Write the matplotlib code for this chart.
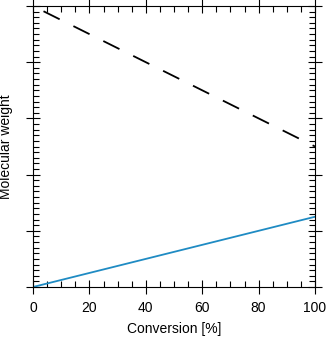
import matplotlib.pyplot as plt
from matplotlib.ticker import MultipleLocator

# conversion [%] and molecular weight (arbitrary units)
conversion = [0, 100]
mw_dashed = [5.0, 2.5]
mw_blue = [0.0, 1.25]

xticks = [0, 20, 40, 60, 80, 100]

plt.rcParams['font.family'] = ['Liberation Sans', 'DejaVu Sans']
plt.rcParams['font.size'] = 10

fig = plt.figure(figsize=(3.26, 3.37), dpi=100)
ax = fig.add_axes([33 / 326, 1 - 287 / 337, 282 / 326, 281 / 337])

# dashed line starts and ends with a gap
ax.plot(conversion, mw_dashed, color='black', linewidth=1.3,
        linestyle=(12.0, (10.0, 8.5)))
ax.plot(conversion, mw_blue, color='#1f8bc3', linewidth=1.3)

ax.set_xlim(0, 100)
ax.set_ylim(0, 5)
ax.set_xticks(xticks)
ax.xaxis.set_minor_locator(MultipleLocator(5))
ax.yaxis.set_major_locator(MultipleLocator(1))
ax.yaxis.set_minor_locator(MultipleLocator(0.1))
ax.set_yticklabels([])

ax.tick_params(which='major', direction='inout', length=10, width=0.8,
               top=True, right=True, pad=5)
ax.tick_params(which='minor', direction='in', length=4.5, width=0.8,
               top=True, right=True)
for s in ax.spines.values():
    s.set_linewidth(0.8)

ax.set_xlabel('Conversion [%]', labelpad=5)
ax.set_ylabel('Molecular weight')
ax.yaxis.set_label_coords(-0.07, 0.5)

fig.savefig('out.png', dpi=100)
